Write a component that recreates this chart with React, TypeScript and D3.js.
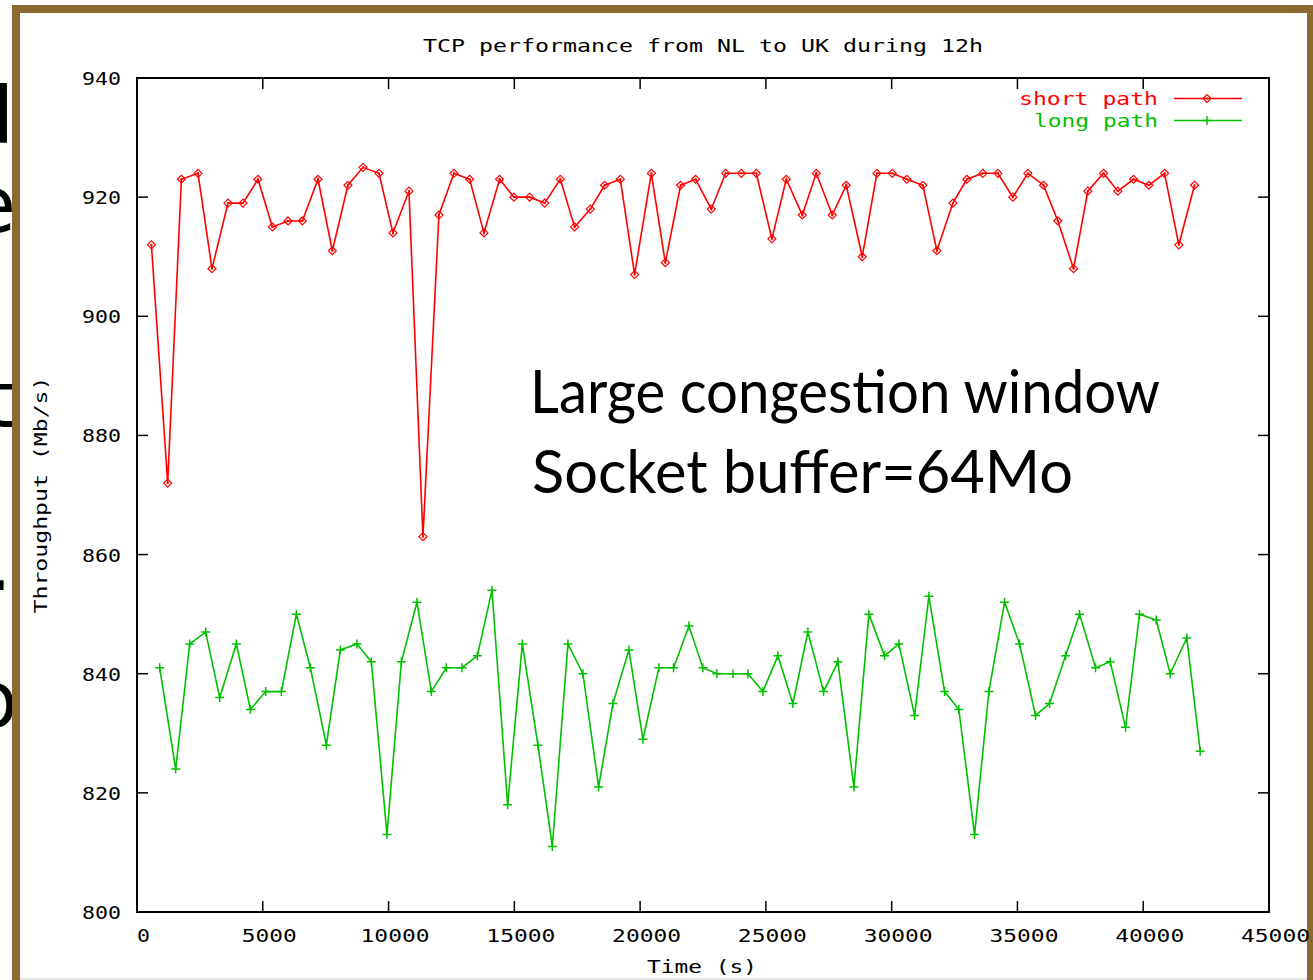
import React from "react";
import * as d3 from "d3";

const shortTime = [572,1220,1765,2425,2981,3617,4213,4809,5382,6002,6574,7194,7766,8386,8983,9618,10175,10811,11367,12003,12599,13223,13792,14416,14984,15608,16204,16828,17397,18021,18589,19213,19781,20445,21002,21610,22206,22830,23399,24023,24619,25239,25811,26447,27003,27639,28195,28831,29412,30024,30604,31240,31797,32433,32989,33625,34221,34817,35413,36037,36606,37230,37798,38422,38991,39615,40223,40847,41415,42039];
const shortVal = [912,872,923,924,908,919,919,923,915,916,916,923,911,922,925,924,914,921,863,917,924,923,914,923,920,920,919,923,915,918,922,923,907,924,909,922,923,918,924,924,924,913,923,917,924,917,922,910,924,924,923,922,911,919,923,924,924,920,924,922,916,908,921,924,921,923,922,924,912,922];
const longTime = [902,1538,2095,2731,3287,3950,4507,5115,5739,6335,6892,7528,8084,8744,9316,9937,10509,11129,11701,12297,12917,13529,14110,14734,15318,15938,16510,17130,17726,18350,18919,19555,20111,20747,21331,21940,22496,23053,23689,24285,24881,25477,26073,26669,27293,27862,28498,29094,29717,30286,30910,31479,32103,32671,33295,33864,34488,35084,35720,36276,36912,37468,38104,38688,39297,39853,40517,41073,41733,42265];
const longVal = [841,824,845,847,836,845,834,837,837,850,841,828,844,845,842,813,842,852,837,841,841,843,854,818,845,828,811,845,840,821,835,844,829,841,841,848,841,840,840,840,837,843,835,847,837,842,821,850,843,845,833,853,837,834,813,837,852,845,833,835,843,850,841,842,831,850,849,840,846,827];

const xTicks = [0,5000,10000,15000,20000,25000,30000,35000,40000,45000];
const yTicks = [800,820,840,860,880,900,920,940];

const title = "TCP performance from NL to UK during 12h";
const xLabel = "Time (s)";
const yLabel = "Throughput (Mb/s)";
const seriesNames = ["short path", "long path"];
const noteLines = ["Large congestion window", "Socket buffer=64Mo"];
const sideLetters = ["d", "e", "t", ".", "o"];

const RED = "#ff0000";
const GREEN = "#00c000";
const FRAME = "#8b6b2e";
const MONO = "'DejaVu Sans Mono', 'Liberation Mono', monospace";

export default function App() {
  const x = d3.scaleLinear().domain([0, 45000]).range([137, 1269]);
  const y = d3.scaleLinear().domain([800, 940]).range([912, 78]);
  const line = d3.line<[number, number]>().x(d => x(d[0])).y(d => y(d[1]));
  const shortPts: [number, number][] = shortTime.map((t, i) => [t, shortVal[i]]);
  const longPts: [number, number][] = longTime.map((t, i) => [t, longVal[i]]);
  const [x0, x1] = x.range();
  const [y0, y1] = y.range();

  const diamond = (cx: number, cy: number, k: string) => (
    <g key={k}>
      <path d={`M${cx - 4},${cy}L${cx},${cy - 4}L${cx + 4},${cy}L${cx},${cy + 4}Z`} fill="none" stroke={RED} strokeWidth={1.2} />
      <rect x={cx - 1} y={cy - 1} width={2} height={2} fill={RED} />
    </g>
  );
  const plus = (cx: number, cy: number, k: string) => (
    <path key={k} d={`M${cx - 4.5},${cy}H${cx + 4.5}M${cx},${cy - 4.5}V${cy + 4.5}`} stroke={GREEN} strokeWidth={1.5} fill="none" />
  );

  const sideY = [143, 232, 427, 590, 727];
  const sideX = [14, 16, 14, 12, 18];

  return (
    <svg width={1313} height={980} style={{ position: "absolute", left: 0, top: 0, background: "#fff" }}>
      <rect x={0} y={0} width={1313} height={980} fill="#fff" />
      {/* background slide letters */}
      {sideLetters.map((s, i) => (
        <text key={s + i} x={sideX[i]} y={sideY[i]} textAnchor="end" fontFamily="'DejaVu Sans', sans-serif" fontSize={78} fill="#000">{s}</text>
      ))}
      {/* frame */}
      <rect x={12} y={5} width={1301} height={8} fill={FRAME} />
      <rect x={12} y={5} width={8} height={975} fill={FRAME} />
      <rect x={1307} y={5} width={6} height={975} fill={FRAME} />
      <line x1={20} x2={1307} y1={979} y2={979} stroke="#ddd" strokeWidth={1.5} />

      {/* title */}
      <text x={703} y={52} textAnchor="middle" fontFamily={MONO} fontSize={18} textLength={560} lengthAdjust="spacingAndGlyphs" fill="#000">{title}</text>

      {/* ticks */}
      {yTicks.map(v => (
        <g key={"y" + v}>
          <line x1={x0} x2={x0 + 11} y1={y(v)} y2={y(v)} stroke="#000" strokeWidth={1.5} />
          <line x1={x1} x2={x1 - 11} y1={y(v)} y2={y(v)} stroke="#000" strokeWidth={1.5} />
          <text x={121} y={y(v) + 7} textAnchor="end" fontFamily={MONO} fontSize={18} textLength={39} lengthAdjust="spacingAndGlyphs" fill="#000">{String(v)}</text>
        </g>
      ))}
      {xTicks.map(v => {
        const s = String(v);
        return (
          <g key={"x" + v}>
            <line x1={x(v)} x2={x(v)} y1={y0} y2={y0 - 11} stroke="#000" strokeWidth={1.5} />
            <line x1={x(v)} x2={x(v)} y1={y1} y2={y1 + 11} stroke="#000" strokeWidth={1.5} />
            <text x={x(v) + 6.5} y={942} textAnchor="middle" fontFamily={MONO} fontSize={18} textLength={s.length * 14 - 1} lengthAdjust="spacingAndGlyphs" fill="#000">{s}</text>
          </g>
        );
      })}
      {/* axes box */}
      <rect x={x0} y={y1} width={x1 - x0} height={y0 - y1} fill="none" stroke="#000" strokeWidth={2} />

      {/* axis labels */}
      <text x={702} y={973} textAnchor="middle" fontFamily={MONO} fontSize={18} textLength={110} lengthAdjust="spacingAndGlyphs" fill="#000">{xLabel}</text>
      <text transform="translate(47,495) rotate(-90)" textAnchor="middle" fontFamily={MONO} fontSize={18} textLength={237} lengthAdjust="spacingAndGlyphs" fill="#000">{yLabel}</text>

      {/* series */}
      <path d={line(shortPts) || ""} fill="none" stroke={RED} strokeWidth={1.6} />
      <path d={line(longPts) || ""} fill="none" stroke={GREEN} strokeWidth={1.6} />
      {shortPts.map((p, i) => diamond(x(p[0]), y(p[1]), "s" + i))}
      {longPts.map((p, i) => plus(x(p[0]), y(p[1]), "l" + i))}

      {/* legend */}
      <text x={1158} y={105} textAnchor="end" fontFamily={MONO} fontSize={18} textLength={139} lengthAdjust="spacingAndGlyphs" fill={RED}>{seriesNames[0]}</text>
      <line x1={1174} x2={1242} y1={98.5} y2={98.5} stroke={RED} strokeWidth={1.6} />
      {diamond(1207, 98.5, "ld")}
      <text x={1158} y={127} textAnchor="end" fontFamily={MONO} fontSize={18} textLength={124} lengthAdjust="spacingAndGlyphs" fill={GREEN}>{seriesNames[1]}</text>
      <line x1={1174} x2={1242} y1={120.5} y2={120.5} stroke={GREEN} strokeWidth={1.6} />
      {plus(1207, 120.5, "lp")}

      {/* annotation */}
      <text x={530} y={413} fontFamily="Lato, 'Open Sans', sans-serif" fontSize={60} textLength={630} lengthAdjust="spacingAndGlyphs" fill="#000">{noteLines[0]}</text>
      <text x={532} y={493} fontFamily="Lato, 'Open Sans', sans-serif" fontSize={60} textLength={541} lengthAdjust="spacingAndGlyphs" fill="#000">{noteLines[1]}</text>
    </svg>
  );
}
